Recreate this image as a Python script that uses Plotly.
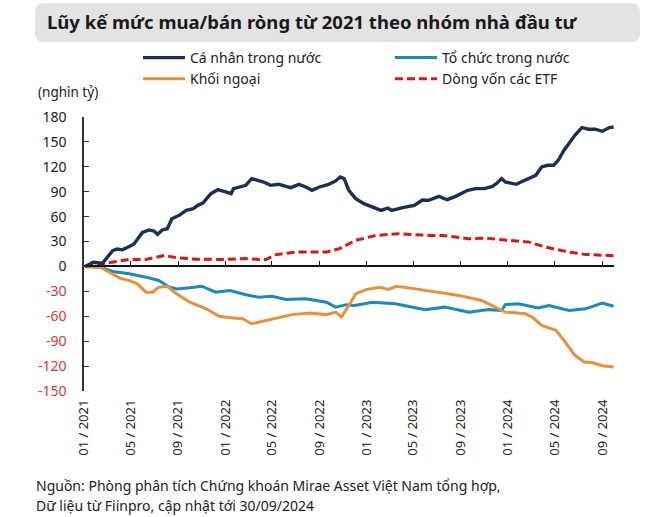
import plotly.graph_objects as go

W, H = 669, 517


def px_x(x):
    return x / W


def px_y(y):
    return 1 - y / H


# ---------------- data (nghìn tỷ đồng) ----------------
ca_nhan_dates = [
    "2021-01-04", "2021-01-25", "2021-02-18", "2021-03-16", "2021-03-28", "2021-04-10",
    "2021-04-28", "2021-05-10", "2021-06-01", "2021-06-18", "2021-07-01", "2021-07-10",
    "2021-07-22", "2021-08-04", "2021-08-16", "2021-09-04", "2021-09-22", "2021-10-10",
    "2021-10-22", "2021-11-04", "2021-11-25", "2021-12-13", "2022-01-04", "2022-01-16",
    "2022-01-22", "2022-02-06", "2022-02-23", "2022-03-10", "2022-03-19", "2022-03-28",
    "2022-04-10", "2022-04-28", "2022-05-19", "2022-06-07", "2022-06-19", "2022-07-10",
    "2022-07-28", "2022-08-13", "2022-09-01", "2022-09-25", "2022-10-13", "2022-10-25",
    "2022-11-04", "2022-11-16", "2022-12-04", "2022-12-25", "2023-01-16", "2023-02-07",
    "2023-02-25", "2023-03-07", "2023-04-04", "2023-05-04", "2023-05-25", "2023-06-10",
    "2023-07-07", "2023-07-28", "2023-08-19", "2023-09-04", "2023-09-19", "2023-10-10",
    "2023-11-01", "2023-11-22", "2023-12-04", "2023-12-16", "2023-12-25", "2024-01-22",
    "2024-02-15", "2024-03-13", "2024-03-28", "2024-04-13", "2024-04-28", "2024-05-10",
    "2024-05-25", "2024-06-07", "2024-06-22", "2024-07-10", "2024-07-28", "2024-08-13",
    "2024-09-01", "2024-09-19", "2024-09-30",
]
ca_nhan_vals = [
    0, 5, 4, 19, 21, 20,
    24, 27, 41, 44, 42.6, 38.6,
    44, 45.5, 57.5, 61.5, 67.5, 69.6,
    73.6, 76.4, 87.7, 92.5, 89.6, 87.7,
    93.7, 95.7, 97.7, 105.8, 104.6, 103,
    101.7, 97.7, 98.9, 96.5, 94.9, 98.9,
    95.7, 91.7, 95.7, 98.9, 103, 107.7,
    105.8, 91.7, 81.7, 75.6, 71.6, 67.5,
    70.3, 67.5, 70.8, 73.6, 80, 79.6,
    84.4, 80.4, 84.4, 87.7, 91.7, 93.7,
    93.7, 96.5, 100.5, 105.8, 101.7, 98.9,
    103.7, 109.8, 119.8, 121.8, 121.8, 127.9,
    140, 148, 158, 167.3, 165.3, 165.3,
    162.8, 167.3, 168,
]

to_chuc_dates = [
    "2021-01-04", "2021-02-13", "2021-03-16", "2021-04-28", "2021-06-10", "2021-07-13",
    "2021-08-10", "2021-08-28", "2021-10-01", "2021-11-01", "2021-12-07", "2022-01-13",
    "2022-02-23", "2022-03-28", "2022-05-01", "2022-06-07", "2022-07-28", "2022-09-19",
    "2022-10-13", "2022-11-10", "2022-12-01", "2023-01-16", "2023-03-16", "2023-06-01",
    "2023-07-22", "2023-09-22", "2023-11-13", "2023-12-16", "2023-12-25", "2024-01-28",
    "2024-03-19", "2024-04-16", "2024-06-07", "2024-07-19", "2024-09-01", "2024-09-30",
]
to_chuc_vals = [
    0, -1, -6, -8.8, -12.9, -16.9,
    -25, -27, -25.7, -23.8, -31, -29,
    -34, -37, -35.8, -39.8, -39, -43,
    -49, -46, -47, -43, -45, -52,
    -49, -55, -52, -53, -46, -45,
    -50, -47, -53, -51, -44, -48,
]

khoi_ngoai_dates = [
    "2021-01-04", "2021-02-13", "2021-03-07", "2021-04-04", "2021-04-28", "2021-05-19",
    "2021-06-10", "2021-06-28", "2021-07-13", "2021-08-04", "2021-08-28", "2021-10-01",
    "2021-11-13", "2021-12-16", "2022-01-22", "2022-02-15", "2022-03-10", "2022-04-16",
    "2022-05-19", "2022-06-22", "2022-08-07", "2022-09-19", "2022-10-13", "2022-10-22",
    "2022-10-28", "2022-11-16", "2022-12-04", "2023-01-01", "2023-02-04", "2023-02-26",
    "2023-03-19", "2023-05-07", "2023-07-07", "2023-08-28", "2023-10-25", "2023-12-01",
    "2023-12-25", "2024-02-15", "2024-03-04", "2024-03-28", "2024-05-04", "2024-05-28",
    "2024-06-22", "2024-07-16", "2024-08-07", "2024-09-01", "2024-09-30",
]
khoi_ngoai_vals = [
    0, -1, -7, -14, -17, -21,
    -31, -31, -25, -23.8, -33, -43,
    -51, -60, -62, -63, -69, -65,
    -61, -58, -56, -58, -55, -59,
    -61, -47, -33, -27.7, -25, -27.7,
    -24, -27, -31, -35, -41, -49,
    -55, -57, -61, -71, -77, -91,
    -107, -115, -116, -119.5, -121,
]

etf_dates = [
    "2021-01-04", "2021-02-15", "2021-04-01", "2021-04-28", "2021-06-10", "2021-07-28",
    "2021-08-28", "2021-10-16", "2021-12-25", "2022-02-23", "2022-03-28", "2022-04-16",
    "2022-05-10", "2022-07-01", "2022-09-19", "2022-10-22", "2022-12-04", "2023-01-25",
    "2023-03-25", "2023-06-10", "2023-07-16", "2023-09-22", "2023-11-04", "2024-01-28",
    "2024-02-25", "2024-04-07", "2024-06-07", "2024-07-19", "2024-09-30",
]
etf_vals = [
    0, 3, 6, 8.4, 8.4, 13.3,
    10.5, 8.8, 8.4, 9.6, 8.4, 8.4,
    14, 17.3, 17.3, 21.3, 31.4, 37.4,
    39.4, 37.4, 37.4, 33.4, 34, 30.5,
    29.3, 23.3, 17.3, 14.5, 13,
]

x_tick_dates = [
    "2021-01-01", "2021-05-01", "2021-09-01", "2022-01-01", "2022-05-01", "2022-09-01",
    "2023-01-01", "2023-05-01", "2023-09-01", "2024-01-01", "2024-05-01", "2024-09-01",
]
x_tick_labels = [
    "01 / 2021", "05 / 2021", "09 / 2021", "01 / 2022", "05 / 2022", "09 / 2022",
    "01 / 2023", "05 / 2023", "09 / 2023", "01 / 2024", "05 / 2024", "09 / 2024",
]
y_tick_vals = [180, 150, 120, 90, 60, 30, 0, -30, -60, -90, -120, -150]

# ---------------- figure ----------------
FONT = "Noto Sans"
NAVY = "#1c3152"
BLUE = "#1b8ab8"
ORANGE = "#e8913b"
RED = "#d7191c"
NEG = "#d8393a"

fig = go.Figure()
fig.add_trace(go.Scatter(x=to_chuc_dates, y=to_chuc_vals, name="Tổ chức trong nước",
                         mode="lines", line=dict(color=BLUE, width=3),
                         legend="legend2", legendrank=1))
fig.add_trace(go.Scatter(x=khoi_ngoai_dates, y=khoi_ngoai_vals, name="Khối ngoại",
                         mode="lines", line=dict(color=ORANGE, width=3),
                         legend="legend", legendrank=2))
fig.add_trace(go.Scatter(x=etf_dates, y=etf_vals, name="Dòng vốn các ETF",
                         mode="lines", line=dict(color=RED, width=3, dash="8px,4px"),
                         legend="legend2", legendrank=2))
fig.add_trace(go.Scatter(x=ca_nhan_dates, y=ca_nhan_vals, name="Cá nhân trong nước",
                         mode="lines", line=dict(color=NAVY, width=3.4),
                         legend="legend", legendrank=1))
# helper trace so the zero-line axis is drawn
fig.add_trace(go.Scatter(x=[x_tick_dates[0]], y=[0], xaxis="x2", mode="markers",
                         marker=dict(opacity=0), showlegend=False, hoverinfo="skip"))

y_tick_text = [str(v) if v >= 0 else f'<span style="color:{NEG}">{v}</span>' for v in y_tick_vals]

x_range = ["2021-01-01", "2024-10-01"]
y_dom = [px_y(391), px_y(117)]
y_zero_px = 391 - 150 / 330 * (391 - 117)

legend_common = dict(orientation="v", yanchor="top", xanchor="left",
                     font=dict(size=14, color="#222222"), traceorder="normal",
                     bgcolor="rgba(0,0,0,0)", itemwidth=42, tracegroupgap=0)

fig.update_layout(
    width=W, height=H,
    margin=dict(l=0, r=0, t=0, b=0, autoexpand=False),
    paper_bgcolor="white", plot_bgcolor="white",
    font=dict(family=FONT, color="#222222"),
    showlegend=True,
    legend=dict(x=px_x(138), y=px_y(42), **legend_common),
    legend2=dict(x=px_x(390), y=px_y(42), **legend_common),
    xaxis=dict(domain=[px_x(84), px_x(614)], range=x_range, type="date",
               tickmode="array", tickvals=x_tick_dates, ticktext=x_tick_labels,
               tickangle=-90, showline=False, ticks="", showgrid=False, zeroline=False,
               automargin=False,
               tickfont=dict(size=13, color="#222222"), ticklabelstandoff=5),
    xaxis2=dict(overlaying="x", range=x_range, type="date", anchor="free",
                position=px_y(y_zero_px), side="bottom",
                tickmode="array", tickvals=x_tick_dates, showticklabels=False,
                showline=True, linecolor="#111111", linewidth=1.5,
                ticks="inside", ticklen=5, tickwidth=1.3, tickcolor="#111111",
                showgrid=False, zeroline=False, automargin=False),
    yaxis=dict(domain=y_dom, range=[-150, 180], tickmode="array",
               tickvals=y_tick_vals, ticktext=y_tick_text,
               showline=True, linecolor="#333333", linewidth=1.5,
               ticks="inside", ticklen=5, tickwidth=1.3, tickcolor="#333333",
               showgrid=False, zeroline=False, ticklabelstandoff=13, automargin=False,
               tickfont=dict(size=14, color="#222222")),
)

# title box with rounded corners
x0, x1 = px_x(35), px_x(640)
y0, y1 = px_y(42), px_y(3)
rx, ry = 9 / W, 9 / H
path = (f"M {x0+rx},{y0} L {x1-rx},{y0} Q {x1},{y0} {x1},{y0+ry} "
        f"L {x1},{y1-ry} Q {x1},{y1} {x1-rx},{y1} L {x0+rx},{y1} "
        f"Q {x0},{y1} {x0},{y1-ry} L {x0},{y0+ry} Q {x0},{y0} {x0+rx},{y0} Z")
fig.add_shape(type="path", path=path, xref="paper", yref="paper",
              fillcolor="#e3e3e3", line=dict(width=0), layer="below")

fig.add_annotation(text="<b>Lũy kế mức mua/bán ròng từ 2021 theo nhóm nhà đầu tư</b>",
                   x=px_x(45), y=px_y(22), xref="paper", yref="paper",
                   xanchor="left", yanchor="middle", showarrow=False,
                   font=dict(size=18.5, color="#1a1a1a", family=FONT))
fig.add_annotation(text="(nghìn tỷ)", x=px_x(36), y=px_y(92), xref="paper", yref="paper",
                   xanchor="left", yanchor="middle", showarrow=False,
                   font=dict(size=13.5, color="#222222"))
fig.add_annotation(text="Nguồn: Phòng phân tích Chứng khoán Mirae Asset Việt Nam tổng hợp,",
                   x=px_x(34), y=px_y(485), xref="paper", yref="paper",
                   xanchor="left", yanchor="middle", showarrow=False,
                   font=dict(size=14, color="#222222"))
fig.add_annotation(text="Dữ liệu từ Fiinpro, cập nhật tới 30/09/2024",
                   x=px_x(34), y=px_y(505), xref="paper", yref="paper",
                   xanchor="left", yanchor="middle", showarrow=False,
                   font=dict(size=14, color="#222222"))

fig.write_html("out.html",
               config={"displayModeBar": False},
               post_script="document.body.style.margin='0';document.body.style.padding='0';")
